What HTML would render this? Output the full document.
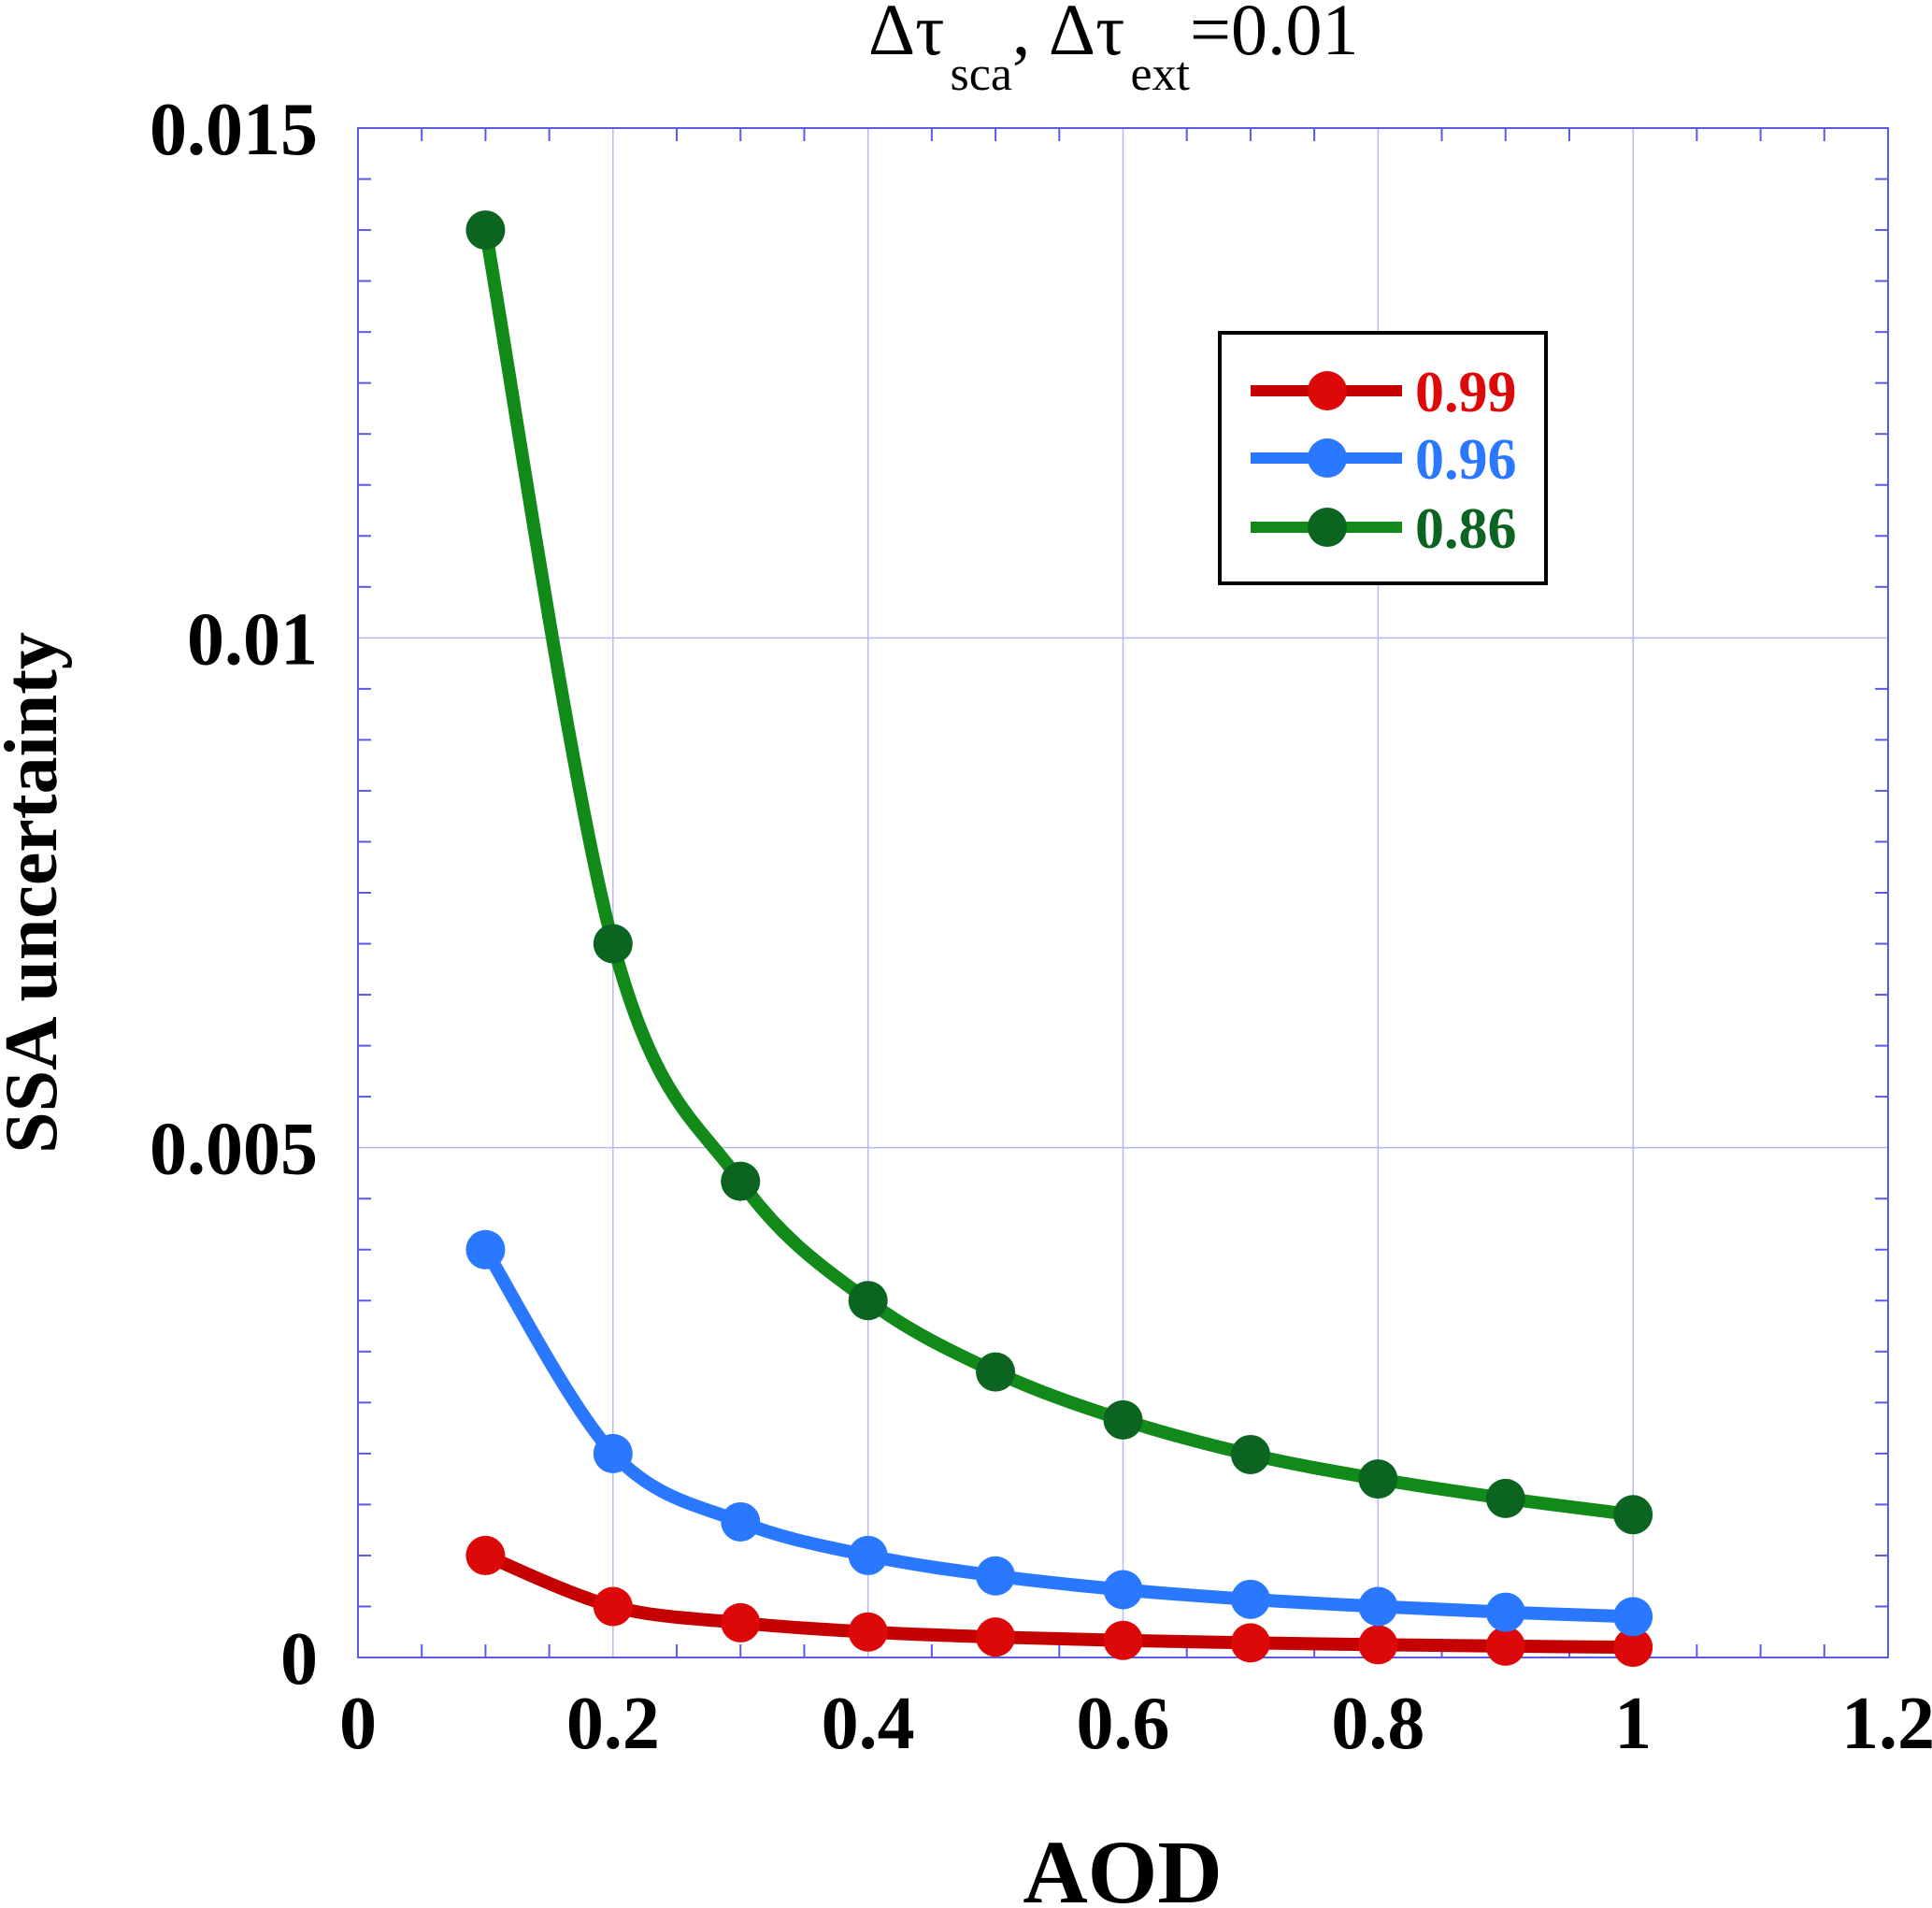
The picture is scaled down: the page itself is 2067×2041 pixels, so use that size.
<!DOCTYPE html>
<html><head><meta charset="utf-8"><style>
html,body{margin:0;padding:0;background:#fff;}
svg{display:block;font-family:"Liberation Serif",serif;}
</style></head><body>
<svg id="chart" width="2067" height="2041" viewBox="0 0 2067 2041" xmlns="http://www.w3.org/2000/svg">
<g id="grid"></g>
<g id="ticks"></g>
<rect x="383" y="137" width="1637" height="1636" fill="none" stroke="#5a5ae6" stroke-width="2"/>
<g id="series"></g>
<g id="labels" font-weight="bold" font-size="80" fill="#000"></g>
<text x="929" y="58" font-size="78" text-anchor="start">Δτ<tspan font-size="52" dy="38" dx="6">sca</tspan><tspan dy="-38">, Δτ</tspan><tspan font-size="52" dy="38" dx="6">ext</tspan><tspan dy="-38">=0.01</tspan></text>
<text transform="translate(60,955) rotate(-90)" font-size="80" font-weight="bold" text-anchor="middle">SSA uncertainty</text>
<text x="1201" y="2035" font-size="96" font-weight="bold" text-anchor="middle">AOD</text>
<g>
<rect x="1305" y="356" width="349" height="268" fill="#fff" stroke="#000" stroke-width="4"/>
<g id="legend-entries"></g>
</g>
</svg>
<script>
const xValues = [0.1,0.2,0.3,0.4,0.5,0.6,0.7,0.8,0.9,1.0];
const series099 = [0.00100,0.00050,0.00034,0.00025,0.00020,0.000167,0.000143,0.000125,0.000111,0.00010];
const series096 = [0.00400,0.00200,0.00133,0.00100,0.00080,0.000665,0.00057,0.00050,0.000444,0.00040];
const series086 = [0.01400,0.00700,0.00467,0.00350,0.00280,0.00233,0.00199,0.00175,0.00156,0.00140];
const seriesNames = ["0.99","0.96","0.86"];
const xTickLabels = ["0","0.2","0.4","0.6","0.8","1","1.2"];
const yTickLabels = ["0","0.005","0.01","0.015"];

const L=383,R=2020,T=137,B=1773;
const xs=v=>L+(v/1.2)*(R-L);
const ys=v=>B-(v/0.015)*(B-T);
const NS="http://www.w3.org/2000/svg";
function mk(tag,parent,attrs){const e=document.createElementNS(NS,tag);for(const k in attrs)e.setAttribute(k,attrs[k]);parent.appendChild(e);return e;}

const grid=document.getElementById('grid'),ticks=document.getElementById('ticks'),labels=document.getElementById('labels');
for(let i=1;i<6;i++){const l=mk('line',grid,{x1:xs(i*0.2),x2:xs(i*0.2),y1:T,y2:B,stroke:'#b8b8f0','stroke-width':1.5});
}
for(let i=1;i<3;i++){const l=mk('line',grid,{x1:L,x2:R,y1:ys(i*0.005),y2:ys(i*0.005),stroke:'#b8b8f0','stroke-width':1.5});
}
for(let i=1;i<24;i++){const x=xs(i*0.05),len=i%4==0?0:14;if(!len)continue;
mk('line',ticks,{x1:x,x2:x,y1:B,y2:B-len,stroke:'#5a5ae6','stroke-width':2});
mk('line',ticks,{x1:x,x2:x,y1:T,y2:T+len,stroke:'#5a5ae6','stroke-width':2});}
for(let i=1;i<30;i++){if(i%10==0)continue;const y=ys(i*0.0005);
mk('line',ticks,{x1:L,x2:L+14,y1:y,y2:y,stroke:'#5a5ae6','stroke-width':2});
mk('line',ticks,{x1:R,x2:R-14,y1:y,y2:y,stroke:'#5a5ae6','stroke-width':2});}
xTickLabels.forEach((t,i)=>{const e=mk('text',labels,{x:xs(i*0.2),y:1870,'text-anchor':'middle'});e.textContent=t;
});
yTickLabels.forEach((t,i)=>{const e=mk('text',labels,{x:340,y:ys(i*0.005)+28,'text-anchor':'end'});e.textContent=t;
});

function smoothPath(pts){let d=`M${pts[0][0]},${pts[0][1]}`;
for(let i=0;i<pts.length-1;i++){const p0=pts[Math.max(i-1,0)],p1=pts[i],p2=pts[i+1],p3=pts[Math.min(i+2,pts.length-1)];
const c1=[p1[0]+(p2[0]-p0[0])/6,p1[1]+(p2[1]-p0[1])/6],c2=[p2[0]-(p3[0]-p1[0])/6,p2[1]-(p3[1]-p1[1])/6];
d+=` C${c1[0]},${c1[1]} ${c2[0]},${c2[1]} ${p2[0]},${p2[1]}`;}return d;}

const sg=document.getElementById('series');
const cfg=[[series099,'#c40000','#dd0808'],[series096,'#2a78ff','#2a78ff'],[series086,'#128a1a','#0b6420']];
cfg.forEach(([vals,lc,mc],si)=>{
const pts=xValues.map((x,i)=>[xs(x),ys(vals[i])]);
const p=mk('path',sg,{d:smoothPath(pts),fill:'none',stroke:lc,'stroke-width':14});

pts.forEach(q=>{const c=mk('circle',sg,{cx:q[0],cy:q[1],r:21,fill:mc});
});
});
const lg=document.getElementById('legend-entries');
const ly=[418,490,564],lcol=['#dd0808','#2a78ff','#0b6420'];
cfg.forEach(([v,lc,mc],i)=>{
const g=mk('g',lg,{});
mk('line',g,{x1:1338,x2:1500,y1:ly[i],y2:ly[i],stroke:lc,'stroke-width':12});
mk('circle',g,{cx:1420,cy:ly[i],r:21,fill:mc});
const t=mk('text',g,{x:1514,y:ly[i]+22,'font-size':62,'font-weight':'bold',fill:lcol[i]});t.textContent=seriesNames[i];
});
</script>
</body></html>
